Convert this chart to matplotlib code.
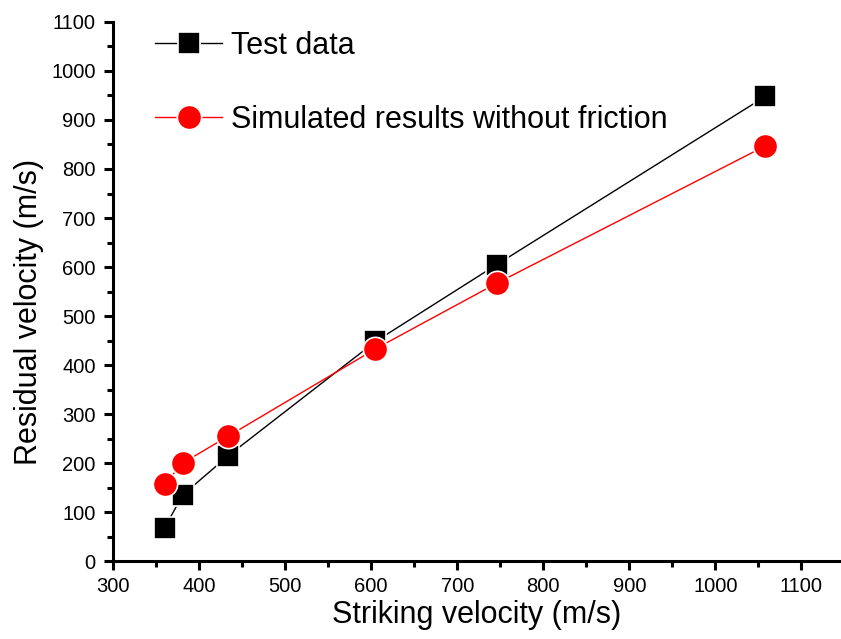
import matplotlib.pyplot as plt
from matplotlib.ticker import MultipleLocator

plt.rcParams['font.family'] = ['Liberation Sans', 'DejaVu Sans']

striking = [360, 381, 434, 605, 746, 1058]
test_data = [68, 135, 215, 448, 605, 948]
simulated = [157, 200, 255, 433, 567, 847]

fig = plt.figure(figsize=(8.41, 6.39), dpi=100)
ax = fig.add_axes([0.1344, 0.122, 0.8656, 0.8436])

ax.plot(striking, test_data, color='black', lw=1, marker='s', ms=16,
        mfc='black', mec='white', mew=1.2, label='Test data')
ax.plot(striking, simulated, color='red', lw=1, marker='o', ms=17.5,
        mfc='red', mec='white', mew=1.2, label='Simulated results without friction')

ax.set_xlim(300, 1146)
ax.set_ylim(0, 1100)
ax.xaxis.set_major_locator(MultipleLocator(100))
ax.xaxis.set_minor_locator(MultipleLocator(50))
ax.yaxis.set_major_locator(MultipleLocator(100))
ax.yaxis.set_minor_locator(MultipleLocator(50))

for s in ['top', 'right']:
    ax.spines[s].set_visible(False)
for s in ['left', 'bottom']:
    ax.spines[s].set_linewidth(2.2)
ax.tick_params(which='major', direction='out', length=6.5, width=2.2, labelsize=14.5)
ax.tick_params(which='minor', direction='out', length=4, width=2.2)
ax.tick_params(axis='y', which='major', pad=6)
ax.tick_params(axis='x', which='major', pad=5)

ax.set_xlabel('Striking velocity (m/s)', fontsize=22, labelpad=3)
ax.set_ylabel('Residual velocity (m/s)', fontsize=22)
ax.yaxis.set_label_coords(-0.095, 0.462)

ax.legend(loc='upper left', bbox_to_anchor=(0.02, 1.035), frameon=False,
          fontsize=22, handlelength=2.2, labelspacing=1.45, handletextpad=0.3)

fig.savefig('out.png', dpi=100)
